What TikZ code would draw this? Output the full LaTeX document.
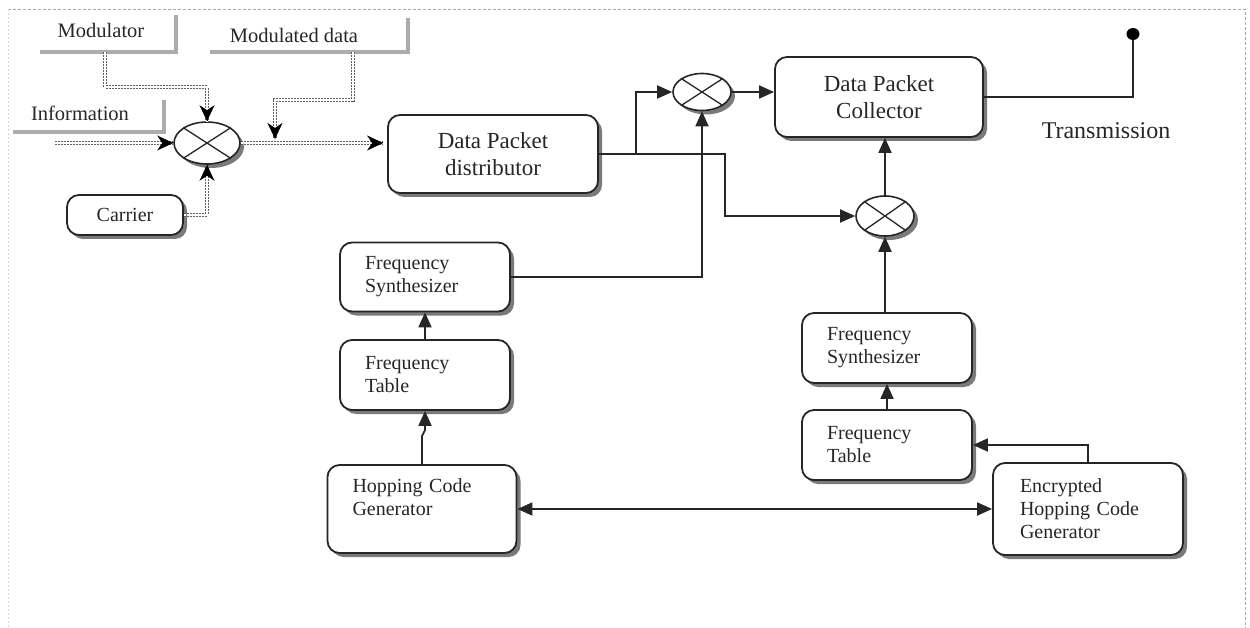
\documentclass[tikz,border=0pt]{standalone}
\usepackage{fontspec}
\setmainfont{Liberation Serif}
\usetikzlibrary{shapes.geometric,arrows.meta,shadows,calc}
\begin{document}
\begin{tikzpicture}[x=1pt,y=-1pt,
  shad/.style={drop shadow={shadow xshift=4pt, shadow yshift=-4pt, fill=black!65, opacity=0.8}},
  box/.style={draw=black!85, line width=1.8pt, rounded corners=12pt, fill=white, shad,
              inner sep=0pt, font=\fontsize{20}{23}\selectfont, text=black!85, align=center},
  lbox/.style={box, align=left},
  bigbox/.style={box, font=\fontsize{23}{27}\selectfont},
  mix/.style={ellipse, draw=black!85, line width=1.6pt, fill=white, inner sep=0pt, shad},
  conn/.style={draw=black!85, line width=1.8pt},
  arr/.style={conn, -{Triangle[length=15pt,width=13pt]}},
  darr/.style={conn, {Triangle[length=15pt,width=13pt]}-{Triangle[length=15pt,width=13pt]}},
  dotline/.style={draw=gray!75!black, line width=1.6pt, double=white, double distance=1.5pt, dash pattern=on 1.7pt off 1.3pt},
  tip/.style={black, line width=1pt, -{Stealth[length=16pt,width=15pt,inset=5pt]}},
  lab/.style={font=\fontsize{20.5}{24}\selectfont, text=black!85, inner sep=0pt},
  lline/.style={draw=gray!65, line width=3.5pt},
]
\useasboundingbox (0,0) rectangle (1250,628);

% frame
\draw[gray!70, line width=0.8pt, dash pattern=on 3pt off 2pt] (8,9) -- (1245,9) -- (1245,628);
\draw[gray!30, line width=0.6pt, dash pattern=on 2pt off 2pt] (8,9) -- (8,628);

% labels with gray L-lines
\node[lab] (modl) at (101,30) {Modulator};
\draw[lline] (40,52) -- (176,52) -- (176,15);
\node[lab] (mdl) at (294,35) {Modulated data};
\draw[lline] (210,52) -- (408,52) -- (408,18);
\node[lab] (infl) at (80,113) {Information};
\draw[lline] (13,132) -- (164,132) -- (164,100);

% boxes
\node[box, minimum width=116pt, minimum height=40pt] (car) at (125,215) {Carrier};
\node[bigbox, minimum width=210pt, minimum height=78pt] (dpd) at (493,154) {Data Packet\\distributor};
\node[bigbox, minimum width=208pt, minimum height=80pt] (dpc) at (879,97) {Data Packet\\Collector};
\node[lbox, text width=120pt, inner xsep=25pt, minimum height=69pt] (fs1) at (425,277) {Frequency\\Synthesizer};
\node[lbox, text width=120pt, inner xsep=25pt, minimum height=70pt] (ft1) at (425,375) {Frequency\\Table};
\node[lbox, text width=139pt, inner xsep=25pt, minimum height=88pt] (hcg) at (422,509) {Hopping Code\\Generator\\~};
\node[lbox, text width=120pt, inner xsep=25pt, minimum height=70pt] (fs2) at (887,348) {Frequency\\Synthesizer};
\node[lbox, text width=120pt, inner xsep=25pt, minimum height=70pt] (ft2) at (887,445) {Frequency\\Table};
\node[lbox, text width=136pt, inner xsep=27pt, minimum height=92pt] (ehcg) at (1088,509) {Encrypted\\Hopping Code\\Generator};

% mixers
\node[mix, minimum width=66pt, minimum height=42pt] (m1) at (207,143) {};
\node[mix, minimum width=58pt, minimum height=37pt] (m2) at (702,92) {};
\node[mix, minimum width=58pt, minimum height=40pt] (m3) at (885,216) {};
\foreach \m in {m1,m2,m3}{
  \draw[black!85, line width=1.3pt] (\m.north west) -- (\m.south east);
  \draw[black!85, line width=1.3pt] (\m.north east) -- (\m.south west);
}

\node[font=\fontsize{24}{28}\selectfont, text=black!85, inner sep=0pt] (tx) at (1106,131) {Transmission};

% dotted connectors
\coordinate (mA) at (105,52);
\coordinate (mB) at (105,87);
\coordinate (inS) at (55,143);
\coordinate (mdA) at (353,52);
\coordinate (mdB) at (353,100);
\coordinate (mdC) at (275,100);
\coordinate (mdD) at (275,139);
\coordinate (dpin) at ($(dpd.west)+(-4,-11)$);
\draw[dotline] (mA) -- (mB) -| (m1.north);
\draw[tip] ($(m1.north)+(0,-0.5)$) -- (m1.north);
\draw[dotline] (inS) -- (m1.west);
\draw[tip] ($(m1.west)+(-0.5,0)$) -- (m1.west);
\draw[dotline] (car.east) -| (m1.south);
\draw[tip] ($(m1.south)+(0,0.5)$) -- (m1.south);
\draw[dotline] (m1.east) -- (dpin);
\draw[tip] ($(dpin)+(-0.5,0)$) -- (dpin);
\draw[dotline] (mdA) -- (mdB) -- (mdC) -- (mdD);
\draw[tip] ($(mdD)+(0,-0.5)$) -- (mdD);

% solid connectors
\coordinate (s1) at (636,154);
\coordinate (s2) at (725,154);
\draw[arr] (dpd.east) -- (s1) |- (m2.west);
\draw[arr] (s1) -- (s2) |- (m3.west);
\draw[arr] (fs1.east) -| (m2.south);
\draw[arr] (m2.east) -- (m2.east -| dpc.west);
\draw[arr] (m3.north) -- (m3.north |- dpc.south);
\draw[arr] (fs2.north -| m3.south) -- (m3.south);
\draw[arr] (ft2.north) -- (fs2.south);
\draw[arr] (ft1.north) -- (fs1.south);
\draw[arr] (hcg.north) -- ++(0,-28) -- ++(3,-6) -- (ft1.south);
\draw[darr] (hcg.east) -- (ehcg.west);
\draw[arr] (ehcg.north) |- (ft2.east);

% antenna
\coordinate (ant) at (1133,34);
\draw[conn] (dpc.east) -| (ant);
\fill[black] (ant) ellipse [x radius=6.5pt, y radius=6pt];
\end{tikzpicture}
\end{document}
